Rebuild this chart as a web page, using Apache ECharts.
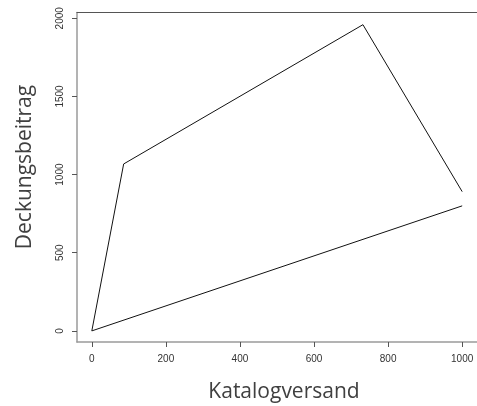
<!DOCTYPE html>
<html>
<head>
<meta charset="utf-8">
<script src="https://cdn.jsdelivr.net/npm/echarts@6/dist/echarts.min.js"></script>
<style>
  html, body { margin: 0; padding: 0; background: #fff; }
  #main { width: 477px; height: 406px; }
</style>
</head>
<body>
<div id="main"></div>
<script>
// Werte
var obereKurve = [[0, 0], [86, 1068], [732, 1959], [1000, 891]];
var untereKurve = [[0, 0], [1000, 800]];
var xTicks = [0, 200, 400, 600, 800, 1000];
var yTicks = [0, 500, 1000, 1500, 2000];
var xTitel = 'Katalogversand';
var yTitel = 'Deckungsbeitrag';

var chartDom = document.getElementById('main');
var myChart = echarts.init(chartDom);
var option;

option = {
    animation: false,
    grid: {
        left: 77,
        right: -2,
        top: 12.5,
        bottom: 64
    },
    xAxis: [
        {
            type: 'value',
            min: -40,
            max: 1040,
            splitLine: { show: false },
            axisLine: { show: true, onZero: false, lineStyle: { color: '#9a9a9a', width: 1.5 } },
            axisTick: { show: true, length: 5, customValues: xTicks, lineStyle: { color: '#555' } },
            axisLabel: {
                customValues: xTicks,
                formatter: function (v) { return String(v); },
                fontFamily: 'Liberation Sans',
                fontSize: 10,
                color: '#333',
                margin: 12
            }
        },
        {
            type: 'value',
            position: 'top',
            min: -40,
            max: 1040,
            splitLine: { show: false },
            axisLine: { show: true, onZero: false, lineStyle: { color: '#555', width: 1.2 } },
            axisTick: { show: false },
            axisLabel: { show: false }
        }
    ],
    yAxis: {
        type: 'value',
        min: -71,
        max: 2037,
        splitLine: { show: false },
        axisLine: { show: true, onZero: false, lineStyle: { color: '#9a9a9a', width: 1.5 } },
        axisTick: { show: true, length: 5, customValues: yTicks, lineStyle: { color: '#555' } },
        axisLabel: {
            customValues: yTicks,
            formatter: function (v) { return String(v); },
            rotate: 90,
            fontFamily: 'Liberation Sans',
            fontSize: 10,
            color: '#333',
            margin: 12
        }
    },
    graphic: [
        {
            type: 'text',
            x: 284,
            y: 392,
            style: {
                text: xTitel,
                fontFamily: 'Open Sans',
                fontSize: 21,
                fill: '#404040',
                align: 'center',
                verticalAlign: 'middle'
            }
        },
        {
            type: 'text',
            x: 25,
            y: 167,
            rotation: Math.PI / 2,
            style: {
                text: yTitel,
                fontFamily: 'Open Sans',
                fontSize: 21,
                fill: '#404040',
                align: 'center',
                verticalAlign: 'middle'
            }
        }
    ],
    series: [
        {
            type: 'line',
            data: obereKurve,
            symbol: 'none',
            lineStyle: { color: '#111', width: 1 }
        },
        {
            type: 'line',
            data: untereKurve,
            symbol: 'none',
            lineStyle: { color: '#111', width: 1 }
        }
    ]
};

option && myChart.setOption(option);
</script>
</body>
</html>
